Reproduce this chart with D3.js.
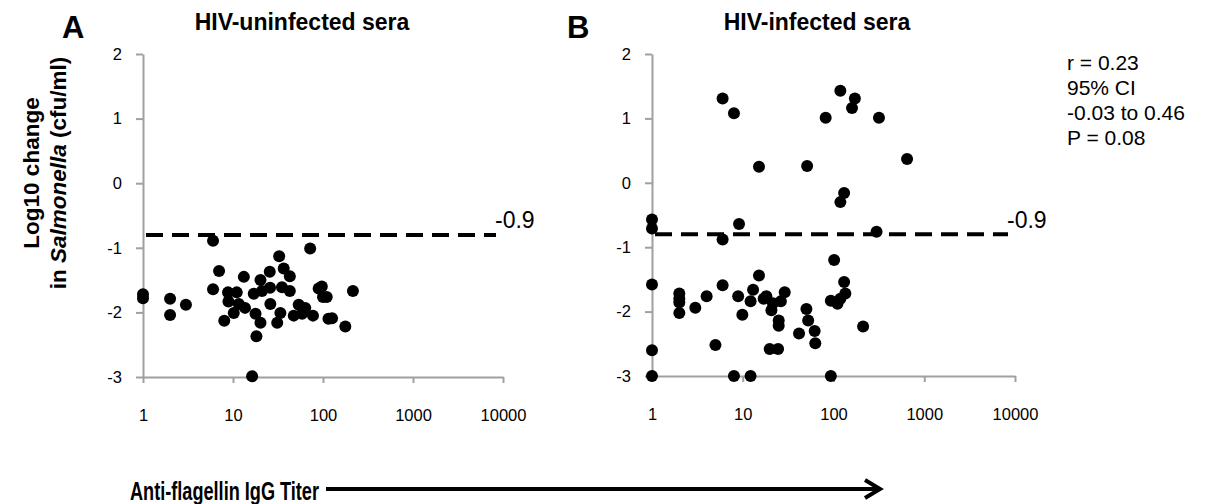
<!DOCTYPE html>
<html>
<head>
<meta charset="utf-8">
<script src="https://cdn.jsdelivr.net/npm/d3@7"></script>
<style>
  body { margin: 0; background: #fff; }
  svg text { font-family: "Liberation Sans", Arial, sans-serif; fill: #000; }
  .tick text { font-size: 16.5px; }
</style>
</head>
<body>
<svg id="chart"></svg>
<script>
// panel A: HIV-uninfected sera (titer, log10 change)
var titerA  = [1, 1, 2, 2, 3, 6, 7, 6, 8, 8.8, 11, 8.9, 10.2, 11.6, 13.2, 13.6, 17, 17.8, 20.2, 20.2, 18.2, 16.3,
               21, 25.6, 25.8, 26, 32.6, 36.6, 42.8, 35, 42.8, 33.6, 31, 47.3, 53.7, 58.5, 72, 63.5, 77.4, 89.5,
               100, 110, 115, 126, 177, 215, 97];
var changeA = [-1.72, -1.78, -1.79, -2.04, -1.88, -0.89, -1.36, -1.64, -2.13, -1.69, -1.69, -1.83, -2.01, -1.87, -1.45, -1.93, -1.71, -2.02, -1.50, -2.16, -2.37, -2.99,
               -1.67, -1.37, -1.62, -1.87, -1.13, -1.32, -1.44, -1.61, -1.67, -2.01, -2.16, -2.05, -1.88, -2.02, -1.01, -1.93, -2.05, -1.63,
               -1.76, -1.76, -2.10, -2.09, -2.22, -1.67, -1.60];

// panel B: HIV-infected sera
var titerB  = [1, 1, 1, 1, 1, 6, 8, 9.1, 6, 6, 15.1, 15.1, 2, 2, 2, 2, 3, 4, 5, 8, 8.9, 9.9, 12.2, 12.2, 13, 18.2, 17,
               20.7, 21.5, 24.9, 24.9, 26.3, 29, 19.8, 24.5, 41.7, 50.3, 52.6, 51.2, 62, 63, 82, 93.5, 101.6, 93.5,
               110.7, 119, 119, 131, 131, 135, 119, 160, 172, 212, 298, 317, 647];
var changeB = [-0.57, -0.71, -1.58, -2.60, -3.0, 1.31, 1.08, -0.64, -0.88, -1.59, 0.25, -1.44, -1.72, -1.80, -1.86, -2.02, -1.94, -1.76, -2.52, -3.0, -1.76, -2.05, -3.0, -1.84, -1.66, -1.76, -1.80,
               -1.98, -1.87, -2.14, -2.22, -1.84, -1.70, -2.58, -2.58, -2.34, -1.96, -2.14, 0.26, -2.30, -2.49, 1.01, -3.0, -1.20, -1.83,
               -1.88, 1.43, -0.30, -0.16, -1.54, -1.72, -1.80, 1.16, 1.31, -2.23, -0.76, 1.01, 0.37];

var xTicks = [1, 10, 100, 1000, 10000];
var yTicks = [-3, -2, -1, 0, 1, 2];
var cutoff = -0.8;
var cutoffLabel = "-0.9";
var statsLines = ["r = 0.23", "95% CI", "-0.03 to 0.46", "P = 0.08"];

var W = 1213, H = 504;
var svg = d3.select("#chart").attr("width", W).attr("height", H);

var panels = [
  {letter: "A", title: "HIV-uninfected sera", titer: titerA, change: changeA, x0: 143, x1: 503, y0: 377, y1: 54, lx: 62, tx: 302},
  {letter: "B", title: "HIV-infected sera",   titer: titerB, change: changeB, x0: 652, x1: 1015, y0: 376, y1: 54, lx: 567, tx: 817}
];

panels.forEach(function(p){
  var x = d3.scaleLog().domain([1, 10000]).range([p.x0, p.x1]);
  var y = d3.scaleLinear().domain([-3, 2]).range([p.y0, p.y1]);
  var g = svg.append("g");

  var yAx = g.append("g").attr("transform", "translate(" + p.x0 + ",0)")
    .call(d3.axisLeft(y).tickValues(yTicks).tickSize(7).tickSizeOuter(0).tickPadding(14)
      .tickFormat(function(d){ return String(d); }));
  var xAx = g.append("g").attr("transform", "translate(0," + p.y0 + ")")
    .call(d3.axisBottom(x).tickValues(xTicks).tickSize(6).tickSizeOuter(0).tickPadding(26)
      .tickFormat(function(d){ return String(d); }));
  [yAx, xAx].forEach(function(a){
    a.select(".domain").attr("stroke", "#a0a0a0").attr("stroke-width", 2);
    a.selectAll(".tick line").attr("stroke", "#a0a0a0").attr("stroke-width", 2);
  });

  // cutoff line
  var xEnd = x(10000) - 7;
  g.append("line")
    .attr("x1", p.x0 + 3).attr("x2", xEnd)
    .attr("y1", y(cutoff)).attr("y2", y(cutoff))
    .attr("stroke", "#000").attr("stroke-width", 4)
    .attr("stroke-dasharray", "17,9");
  g.append("text")
    .attr("x", xEnd - 1).attr("y", 228)
    .attr("font-size", 23).text(cutoffLabel);

  g.selectAll("circle.pt").data(p.titer).enter().append("circle")
    .attr("class", "pt")
    .attr("cx", function(d){ return x(d); })
    .attr("cy", function(d, i){ return y(p.change[i]); })
    .attr("r", 6).attr("fill", "#000");

  g.append("text").attr("x", p.tx).attr("y", 30)
    .attr("text-anchor", "middle").attr("font-size", 23).attr("font-weight", "bold")
    .text(p.title);
  g.append("text").attr("x", p.lx).attr("y", 38)
    .attr("font-size", 31).attr("font-weight", "bold").text(p.letter);
});

// stats text
svg.append("g").selectAll("text").data(statsLines).enter().append("text")
  .attr("x", 1067).attr("y", function(d, i){ return 70 + i * 25; })
  .attr("font-size", 21).text(function(d){ return d; });

// y axis title
var yt = svg.append("text").attr("transform", "translate(0,173) rotate(-90)")
  .attr("text-anchor", "middle").attr("font-size", 22.5).attr("font-weight", "bold");
yt.append("tspan").attr("x", 0).attr("y", 39).text("Log10 change");
var l2 = yt.append("tspan").attr("x", 0).attr("y", 66);
l2.append("tspan").text("in ");
l2.append("tspan").attr("font-style", "italic").text("Salmonella");
l2.append("tspan").text(" (cfu/ml)");

// x axis title with arrow
svg.append("text").attr("x", 130).attr("y", 500)
  .attr("font-size", 25).attr("font-weight", "bold")
  .attr("textLength", 189).attr("lengthAdjust", "spacingAndGlyphs")
  .text("Anti-flagellin IgG Titer");
svg.append("line").attr("x1", 326).attr("x2", 878).attr("y1", 489).attr("y2", 489)
  .attr("stroke", "#000").attr("stroke-width", 4);
svg.append("path").attr("d", "M865,480 L880,489 L865,498")
  .attr("fill", "none").attr("stroke", "#000").attr("stroke-width", 4);
</script>
</body>
</html>
